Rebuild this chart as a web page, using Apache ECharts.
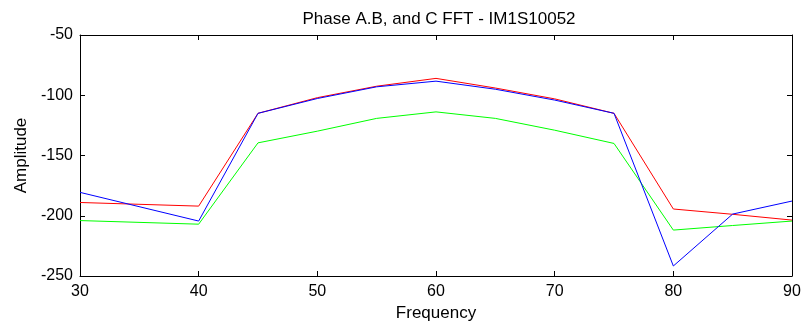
<!DOCTYPE html>
<html><head><meta charset="utf-8">
<script src="https://cdn.jsdelivr.net/npm/echarts@6/dist/echarts.min.js"></script>
<style>html,body{margin:0;padding:0;background:#fff}#c{width:801px;height:324px}</style>
</head><body><div id="c"></div>
<script>
const titleText = "Phase A.B, and C FFT - IM1S10052";
const xLabel = "Frequency";
const yLabel = "Amplitude";
const freqs = [30, 40, 45, 50, 55, 60, 65, 70, 75, 80, 85, 90];
const phaseA = [-189, -192, -115, -102, -92.5, -86, -94, -103, -115, -194.4, -198.8, -203.6];
const phaseB = [-204, -207, -139.5, -129.8, -119.2, -113.8, -119.2, -129, -140, -211.9, -208.1, -204.4];
const phaseC = [-180.6, -204.4, -115, -102.7, -93, -88.3, -95, -104, -115, -241.7, -198.6, -187.8];
const seriesColors = ["#ff0000", "#00ff00", "#0000ff"];

const font = "Liberation Sans, Arial, sans-serif";
function pairs(xs, ys){ return xs.map((x,i)=>[x, ys[i]]); }
function mk(data, color){
  return {type:'line', data:data, symbol:'none', lineStyle:{color:color, width:1}, itemStyle:{color:color}, animation:false};
}
const chart = echarts.init(document.getElementById('c'));
chart.setOption({
  animation:false,
  backgroundColor:'#ffffff',
  title:{text:titleText, left:434, top:6, textAlign:'center', textStyle:{fontFamily:font, fontSize:17, fontWeight:'normal', color:'#000'}},
  grid:{left:80, right:9, top:35, bottom:48, containLabel:false, outerBoundsMode:'none'},
  xAxis:[
    {type:'value', min:30, max:90, interval:10, position:'bottom',
     name:xLabel, nameLocation:'middle', nameGap:23, nameTextStyle:{fontFamily:font, fontSize:17, color:'#000'},
     axisLine:{show:true, onZero:false, lineStyle:{color:'#000', width:1}},
     axisTick:{show:true, inside:true, length:5, lineStyle:{color:'#000'}},
     axisLabel:{fontFamily:font, fontSize:16, color:'#000', margin:8},
     splitLine:{show:false}},
    {type:'value', min:30, max:90, interval:10, position:'top',
     axisLine:{show:true, onZero:false, lineStyle:{color:'#000', width:1}},
     axisTick:{show:true, inside:true, length:5, lineStyle:{color:'#000'}},
     axisLabel:{show:false}, splitLine:{show:false}}
  ],
  yAxis:[
    {type:'value', min:-250, max:-50, interval:50, position:'left',
     name:yLabel, nameLocation:'middle', nameGap:50, nameRotate:90, nameTextStyle:{fontFamily:font, fontSize:17, color:'#000'},
     axisLine:{show:true, onZero:false, lineStyle:{color:'#000', width:1}},
     axisTick:{show:true, inside:true, length:5, lineStyle:{color:'#000'}},
     axisLabel:{fontFamily:font, fontSize:16, color:'#000', margin:7, padding:[3,0,0,0]},
     splitLine:{show:false}},
    {type:'value', min:-250, max:-50, interval:50, position:'right',
     axisLine:{show:true, onZero:false, lineStyle:{color:'#000', width:1}},
     axisTick:{show:true, inside:true, length:5, lineStyle:{color:'#000'}},
     axisLabel:{show:false}, splitLine:{show:false}}
  ],
  series:[
    mk(pairs(freqs, phaseA), seriesColors[0]),
    mk(pairs(freqs, phaseB), seriesColors[1]),
    mk(pairs(freqs, phaseC), seriesColors[2])
  ]
});
</script></body></html>
